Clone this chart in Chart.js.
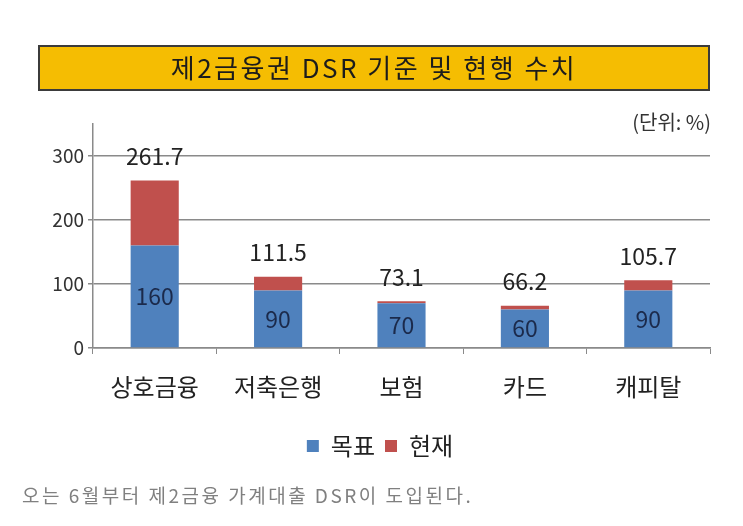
<!DOCTYPE html>
<html>
<head>
<meta charset="utf-8">
<script src="https://cdn.jsdelivr.net/npm/chart.js@4"></script>
<style>
  html, body { margin: 0; padding: 0; background: #fff; }
  #wrap { position: relative; width: 743px; height: 526px; }
</style>
</head>
<body>
<div id="wrap"><canvas id="dsr-chart" width="743" height="526"></canvas></div>
<script>
// 제2금융권 DSR 기준 및 현행 수치 (단위: %)
var categories = ['상호금융', '저축은행', '보험', '카드', '캐피탈'];
var targetValues = [160, 90, 70, 60, 90];          // 목표
var currentTotals = [261.7, 111.5, 73.1, 66.2, 105.7]; // 현행 수치 (막대 위 숫자)
var currentExcess = [101.7, 21.5, 3.1, 6.2, 15.7];  // 현재 - 목표 (빨간 부분)
var yTicks = [0, 100, 200, 300];

var FONT = '"Noto Sans CJK KR", "Noto Sans", sans-serif';

// title box, unit note, caption and value labels
var extras = {
  id: 'extras',
  beforeDraw: function (chart) {
    var c = chart.ctx;
    c.save();
    c.fillStyle = '#f5bd02';
    c.fillRect(39, 46, 670, 44);
    c.strokeStyle = '#3b3b3b';
    c.lineWidth = 2;
    c.strokeRect(39, 46, 670, 44);
    c.fillStyle = '#1c1c1c';
    c.font = '26px ' + FONT;
    c.letterSpacing = '2.5px';
    c.textAlign = 'center';
    c.textBaseline = 'middle';
    c.fillText('제2금융권 DSR 기준 및 현행 수치', 374, 68);

    c.letterSpacing = '0px';
    c.font = '20px ' + FONT;
    c.textAlign = 'right';
    c.fillStyle = '#333';
    c.fillText('(단위: %)', 711, 122);

    c.font = '19px ' + FONT;
    c.letterSpacing = '2.5px';
    c.textAlign = 'left';
    c.fillStyle = '#808080';
    c.fillText('오는 6월부터 제2금융 가계대출 DSR이 도입된다.', 22, 496);
    c.restore();
  },
  afterDatasetsDraw: function (chart) {
    var c = chart.ctx;
    var blue = chart.getDatasetMeta(0).data;
    var red = chart.getDatasetMeta(1).data;
    c.save();
    c.textAlign = 'center';
    c.textBaseline = 'middle';
    c.font = '23px ' + FONT;
    blue.forEach(function (bar, i) {
      c.fillStyle = '#1b2a4b';
      c.fillText(String(targetValues[i]), bar.x, (bar.y + bar.base) / 2);
      c.fillStyle = '#222';
      c.fillText(String(currentTotals[i]), red[i].x, red[i].y - 24);
    });
    c.restore();
  }
};

var ctx = document.getElementById('dsr-chart').getContext('2d');
var chart = new Chart(ctx, {
  type: 'bar',
  data: {
    labels: categories,
    datasets: [{
      label: '목표',
      data: targetValues,
      backgroundColor: '#4f81bd'
    }, {
      label: '현재',
      data: currentExcess,
      backgroundColor: '#c0504d'
    }]
  },
  options: {
    responsive: false,
    animation: false,
    layout: { padding: { left: 50, right: 33, top: 124, bottom: 58 } },
    datasets: { bar: { barPercentage: 0.39, categoryPercentage: 1 } },
    plugins: {
      legend: {
        position: 'bottom',
        labels: {
          boxWidth: 12,
          boxHeight: 12,
          padding: 10,
          color: '#222',
          font: { family: FONT, size: 24 }
        }
      },
      tooltip: { enabled: false }
    },
    scales: {
      x: {
        stacked: true,
        afterFit: function (s) { s.height = 76; },
        border: { color: '#8a8a8a', width: 1.5 },
        grid: { offset: true, drawOnChartArea: false, tickLength: 6, color: '#8a8a8a' },
        ticks: { padding: 18, color: '#222', font: { family: FONT, size: 24 } }
      },
      y: {
        stacked: true,
        min: 0,
        max: 350,
        afterFit: function (s) { s.width = 43; },
        border: { color: '#8a8a8a', width: 1.5 },
        grid: {
          tickLength: 5,
          lineWidth: 1.5,
          color: function (g) { return yTicks.indexOf(g.tick.value) >= 0 ? '#8a8a8a' : 'rgba(0,0,0,0)'; }
        },
        ticks: {
          stepSize: 100,
          padding: 4,
          color: '#333',
          font: { family: FONT, size: 19 },
          callback: function (v) { return yTicks.indexOf(v) >= 0 ? v : ''; }
        }
      }
    }
  },
  plugins: [extras]
});
</script>
</body>
</html>
